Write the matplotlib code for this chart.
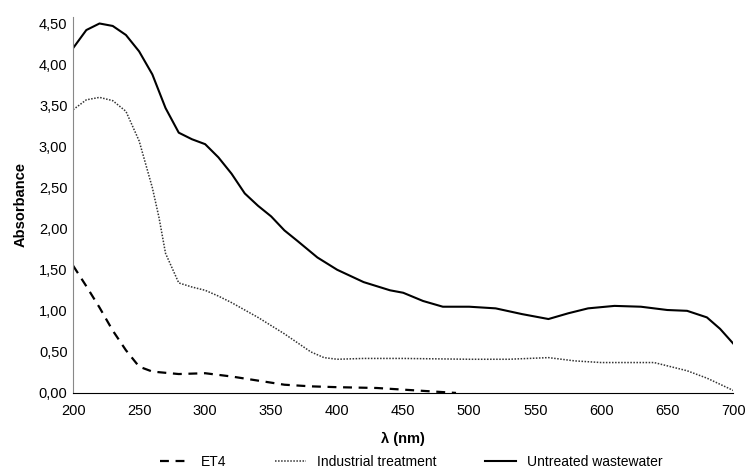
import matplotlib.pyplot as plt
from matplotlib.ticker import FuncFormatter

plt.rcParams['font.family'] = ['Liberation Sans', 'DejaVu Sans']

# wavelength (nm) and absorbance
wl_raw = [200, 210, 220, 230, 240, 250, 260, 270, 280, 290, 300, 310, 320, 330, 340,
          350, 360, 370, 385, 400, 420, 440, 450, 465, 480, 500, 520, 540, 560,
          575, 590, 610, 630, 650, 665, 680, 690, 700]
untreated = [4.20, 4.42, 4.50, 4.47, 4.36, 4.16, 3.88, 3.47, 3.17, 3.09, 3.03, 2.87, 2.67,
             2.43, 2.28, 2.15, 1.98, 1.85, 1.65, 1.50, 1.35, 1.25, 1.22, 1.12, 1.05,
             1.05, 1.03, 0.96, 0.90, 0.97, 1.03, 1.06, 1.05, 1.01, 1.00, 0.92, 0.78, 0.60]

wl_ind = [200, 210, 220, 230, 240, 250, 260, 265, 270, 280, 290, 300, 310, 320, 340,
          360, 380, 390, 400, 420, 450, 500, 530, 560, 580, 600, 640, 650, 665, 680, 700]
industrial = [3.45, 3.57, 3.60, 3.56, 3.43, 3.07, 2.50, 2.14, 1.70, 1.34, 1.29, 1.25, 1.18,
              1.10, 0.92, 0.72, 0.50, 0.43, 0.41, 0.42, 0.42, 0.41, 0.41, 0.43, 0.39,
              0.37, 0.37, 0.33, 0.27, 0.18, 0.03]

wl_et4 = [200, 210, 220, 230, 240, 250, 260, 280, 300, 320, 340, 360, 380, 400, 430,
          450, 470, 490]
et4 = [1.55, 1.30, 1.04, 0.76, 0.52, 0.32, 0.26, 0.23, 0.24, 0.20, 0.15, 0.10, 0.08,
       0.07, 0.06, 0.04, 0.02, 0.0]

xticks = [200, 250, 300, 350, 400, 450, 500, 550, 600, 650, 700]
yticks = [0, 0.5, 1.0, 1.5, 2.0, 2.5, 3.0, 3.5, 4.0, 4.5]

fig = plt.figure(figsize=(7.46, 4.70), dpi=100)
ax = fig.add_axes([0.098, 0.164, 0.885, 0.80])

ax.plot(wl_et4, et4, color='black', linestyle=(0, (4, 3)), linewidth=1.6, label='ET4')
ax.plot(wl_ind, industrial, color='#333333', linestyle=(0, (1, 1)), linewidth=1.1,
        label='Industrial treatment')
ax.plot(wl_raw, untreated, color='black', linestyle='-', linewidth=1.5,
        label='Untreated wastewater')

ax.set_xlim(200, 700)
ax.set_ylim(0, 4.58)
ax.set_xticks(xticks)
ax.set_yticks(yticks)
ax.yaxis.set_major_formatter(FuncFormatter(lambda v, p: f"{v:.2f}".replace('.', ',')))
ax.tick_params(length=0, labelsize=10.5, pad=4)
ax.tick_params(axis='x', pad=8)
ax.spines['top'].set_visible(False)
ax.spines['right'].set_visible(False)
ax.spines['left'].set_color('#888888')
ax.set_xlabel('λ (nm)', fontweight='bold', fontsize=10.5, labelpad=10)
ax.set_ylabel('Absorbance', fontweight='bold', fontsize=10.5, labelpad=8)

fig.legend(loc='center', bbox_to_anchor=(0.551, 0.018), ncol=3, frameon=False,
           fontsize=10, handlelength=2.2, columnspacing=3.5, borderpad=0)

fig.savefig('out.png', dpi=100)
